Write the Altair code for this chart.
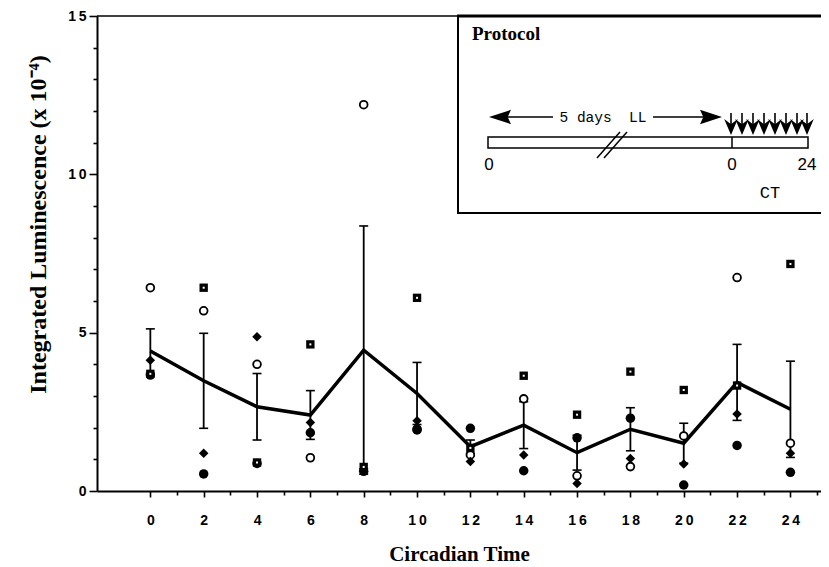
import altair as alt
import pandas as pd

# ---- data ----
ct = [0, 2, 4, 6, 8, 10, 12, 14, 16, 18, 20, 22, 24]
mean_lum = [4.42, 3.48, 2.66, 2.40, 4.45, 3.08, 1.40, 2.08, 1.21, 1.95, 1.51, 3.43, 2.58]
sem_lum = [0.70, 1.50, 1.05, 0.77, 3.92, 0.98, 0.21, 0.74, 0.55, 0.68, 0.63, 1.20, 1.52]
open_circle = [6.42, 5.69, 4.00, 1.05, 12.20, 1.95, 1.14, 2.91, 0.48, 0.77, 1.74, 6.74, 1.51]
filled_circle = [3.66, 0.54, 0.87, 1.84, 0.62, 1.93, 1.98, 0.64, 1.68, 2.30, 0.19, 1.44, 0.59]
diamond = [4.13, 1.19, 4.87, 2.16, 0.70, 2.22, 0.93, 1.14, 0.24, 1.03, 0.85, 2.43, 1.19]
square = [3.70, 6.42, 0.90, 4.63, 0.76, 6.10, 1.36, 3.64, 2.41, 3.77, 3.19, 3.33, 7.17]

x_ticks = list(range(0, 26))
y_ticks = list(range(0, 16))

W, H = 724, 475

summary = pd.DataFrame({"ct": ct, "mean": mean_lum, "sem": sem_lum})
pts = pd.concat([
    pd.DataFrame({"ct": ct, "val": open_circle, "series": "open"}),
    pd.DataFrame({"ct": ct, "val": filled_circle, "series": "filled"}),
    pd.DataFrame({"ct": ct, "val": diamond, "series": "diamond"}),
    pd.DataFrame({"ct": ct, "val": square, "series": "square"}),
])

label_font = "Liberation Sans"
title_font = "Liberation Serif"

xaxis = alt.Axis(
    values=x_ticks,
    labelExpr="datum.value % 2 === 0 ? join(split(datum.label, ''), '\u2009') : ''",
    tickSize={"condition": {"test": "datum.value % 2 === 0", "value": 6}, "value": 4},
    labelFont=label_font, labelFontWeight="bold", labelFontSize=14, labelColor="black",
    labelPadding=16, labelOverlap=False, labelFlush=False,
    domainColor="black", domainWidth=2, tickColor="black", tickWidth=1.6,
    grid=False,
    title="Circadian Time", titleFont=title_font, titleFontSize=21, titleFontWeight="bold",
    titleColor="black", titleY=69, titleBaseline="alphabetic",
)
yaxis = alt.Axis(
    values=y_ticks,
    labelExpr="datum.value % 5 === 0 ? join(split(datum.label, ''), '\u2009') : ''",
    tickSize={"condition": {"test": "datum.value % 5 === 0", "value": 8}, "value": 4},
    labelFont=label_font, labelFontWeight="bold", labelFontSize=14, labelColor="black",
    labelPadding=3, labelOverlap=False, labelFlush=False,
    domainColor="black", domainWidth=2, tickColor="black", tickWidth=1.6,
    grid=False,
    title="Integrated Luminescence (x 10\u207b\u2074)", titleFont=title_font, titleFontSize=24,
    titleFontWeight="bold", titleColor="black", titleX=-59, titleY=208,
    titleBaseline="middle", titleAlign="center", titleAngle=270,
)

xs = alt.Scale(domain=[-2, -2 + W / 26.67], nice=False, zero=False)
ys = alt.Scale(domain=[0, 15], nice=False, zero=True)

X = alt.X("ct:Q", scale=xs, axis=xaxis)


def Yf(field):
    return alt.Y(field, type="quantitative", scale=ys, axis=yaxis)


base_sum = alt.Chart(summary).transform_calculate(
    lo="datum.mean - datum.sem", hi="datum.mean + datum.sem"
)
err_rule = base_sum.mark_rule(color="black", strokeWidth=1.8).encode(x=X, y=Yf("lo"), y2="hi:Q")
cap_lo = base_sum.mark_tick(orient="horizontal", size=9, thickness=1.6, color="black", opacity=1).encode(x=X, y=Yf("lo"))
cap_hi = base_sum.mark_tick(orient="horizontal", size=9, thickness=1.6, color="black", opacity=1).encode(x=X, y=Yf("hi"))
mean_line = alt.Chart(summary).mark_line(color="black", strokeWidth=3.5).encode(x=X, y=Yf("mean"))

pbase = alt.Chart(pts)
p_open = pbase.transform_filter("datum.series === 'open'").mark_point(
    shape="circle", size=60, filled=True, fill="white", stroke="black", strokeWidth=1.8, opacity=1
).encode(x=X, y=Yf("val"))
p_filled = pbase.transform_filter("datum.series === 'filled'").mark_point(
    shape="circle", size=90, filled=True, color="black", opacity=1
).encode(x=X, y=Yf("val"))
p_diamond = pbase.transform_filter("datum.series === 'diamond'").mark_point(
    shape="diamond", size=90, filled=True, color="black", opacity=1
).encode(x=X, y=Yf("val"))
p_square = pbase.transform_filter("datum.series === 'square'").mark_point(
    shape="square", size=70, filled=True, color="black", opacity=1
).encode(x=X, y=Yf("val"))
p_square_dot = pbase.transform_filter("datum.series === 'square'").mark_point(
    shape="square", size=4, filled=True, color="white", opacity=1
).encode(x=X, y=Yf("val"))

# ---- frame and protocol inset (decoration, pixel positions) ----
one = alt.Data(values=[{}])


def rule(x1, y1, x2, y2, w=1.5):
    return alt.Chart(one).mark_rule(color="black", strokeWidth=w).encode(
        x=alt.value(x1), y=alt.value(y1), x2=alt.value(x2), y2=alt.value(y2)
    )


def label(txt, x, y, font, size, weight="normal", align="center"):
    return alt.Chart(one).mark_text(
        text=txt, font=font, fontSize=size, fontWeight=weight, align=align,
        baseline="alphabetic", color="black"
    ).encode(x=alt.value(x), y=alt.value(y))


top_border = rule(0, 0, "width", 0, 1.5)
inset_bg = alt.Chart(one).mark_rect(fill="white", opacity=1).encode(
    x=alt.value(360), x2=alt.value("width"), y=alt.value(0), y2=alt.value(197)
)
inset_top = rule(360, 0, "width", 0, 3)
inset_left = rule(361, -1, 361, 198, 2)
inset_bottom = rule(360, 197, "width", 197, 2)
protocol = label("Protocol", 375, 24, title_font, 19, "bold", "left")
bar = alt.Chart(one).mark_rect(fill="white", stroke="black", strokeWidth=1.5, opacity=1).encode(
    x=alt.value(391), x2=alt.value(711), y=alt.value(121), y2=alt.value(132)
)
divider = rule(635, 121, 635, 132, 1.5)
slash1 = rule(500, 142, 523, 116, 1.5)
slash2 = rule(507, 142, 530, 116, 1.5)
lab0a = label("0", 392, 154, label_font, 17)
lab0b = label("0", 635, 154, label_font, 17)
lab24 = label("24", 710, 154, label_font, 17)
lab_ct = label("CT", 673, 182, "Liberation Mono", 17)
lab_ll = label("5 days\u00a0 LL", 506, 106, "Liberation Mono", 14.5)
line_left = rule(410, 101, 456, 101, 1.5)
line_right = rule(556, 101, 608, 101, 1.5)
head_left = alt.Chart(one).mark_point(
    shape="M -1 0 L 1 -0.65 L 0.7 0 L 1 0.65 Z", size=484, filled=True, color="black", opacity=1
).encode(x=alt.value(403), y=alt.value(101))
head_right = alt.Chart(one).mark_point(
    shape="M 1 0 L -1 -0.65 L -0.7 0 L -1 0.65 Z", size=484, filled=True, color="black", opacity=1
).encode(x=alt.value(614), y=alt.value(101))

arrow_x = pd.DataFrame({"ax": [634, 645, 656, 667, 678, 689, 700, 710]})
arrow_shafts = alt.Chart(arrow_x).mark_rule(color="black", strokeWidth=1.6).encode(
    x=alt.X("ax:Q", scale=None, axis=None), y=alt.value(97), y2=alt.value(114)
)
arrow_heads = alt.Chart(arrow_x).mark_point(
    shape="M 0 1 L -0.85 -1 L 0 -0.35 L 0.85 -1 Z", size=256, filled=True, color="black", opacity=1
).encode(x=alt.X("ax:Q", scale=None, axis=None), y=alt.value(111))

chart = alt.layer(
    err_rule, cap_lo, cap_hi, mean_line,
    p_open, p_filled, p_diamond, p_square, p_square_dot,
    top_border, inset_bg, inset_top, inset_left, inset_bottom, protocol,
    bar, divider, slash1, slash2, lab0a, lab0b, lab24, lab_ct, lab_ll,
    line_left, line_right, head_left, head_right, arrow_shafts, arrow_heads,
).properties(
    width=W, height=H,
    padding={"left": 89, "top": 8, "right": 0, "bottom": 74},
    autosize=alt.AutoSizeParams(type="none"),
    background="white",
).configure_view(stroke=None)

chart.save("out.html", embed_options={"renderer": "svg", "actions": False})
